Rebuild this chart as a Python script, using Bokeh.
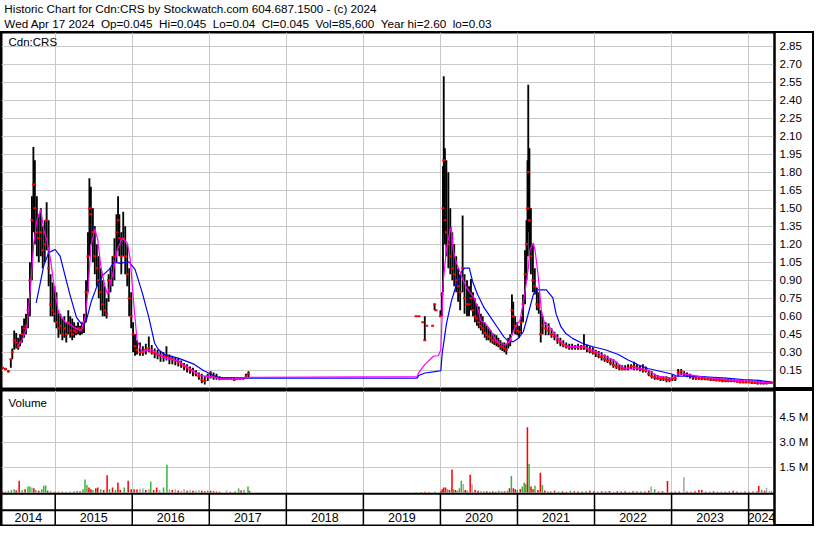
from bokeh.plotting import figure
from bokeh.layouts import column
from bokeh.models import Range1d, FixedTicker, PrintfTickFormatter, Label, Span, Grid, ColumnDataSource
from bokeh.core.properties import value
from bokeh.embed import file_html
from bokeh.resources import INLINE

# ---------------- data ----------------
title_line1 = "Historic Chart for Cdn:CRS by Stockwatch.com 604.687.1500 - (c) 2024"
title_line2 = "Wed Apr 17 2024  Op=0.045  Hi=0.045  Lo=0.04  Cl=0.045  Vol=85,600  Year hi=2.60  lo=0.03"
symbol = "Cdn:CRS"
volume_title = "Volume"

price_ticks = [0.15, 0.30, 0.45, 0.60, 0.75, 0.90, 1.05, 1.20, 1.35, 1.50,
               1.65, 1.80, 1.95, 2.10, 2.25, 2.40, 2.55, 2.70, 2.85]
volume_ticks = [1.5, 3.0, 4.5]
year_bounds = [2015, 2016, 2017, 2018, 2019, 2020, 2021, 2022, 2023, 2024]
year_labels = [2014, 2015, 2016, 2017, 2018, 2019, 2020, 2021, 2022, 2023, 2024]

# price bars (decimal year, high, low, close)
bar_date = [
    2014.316, 2014.354, 2014.392, 2014.424, 2014.443, 2014.468, 2014.494, 2014.519, 2014.545, 2014.570,
    2014.596, 2014.621, 2014.647, 2014.672, 2014.698, 2014.717, 2014.736, 2014.762, 2014.787, 2014.813,
    2014.838, 2014.864, 2014.889, 2014.915, 2014.940, 2014.966, 2014.991, 2015.017, 2015.042, 2015.068,
    2015.093, 2015.119, 2015.144, 2015.170, 2015.195, 2015.221, 2015.246, 2015.272, 2015.297, 2015.323,
    2015.348, 2015.374, 2015.400, 2015.425, 2015.444, 2015.463, 2015.489, 2015.514, 2015.540, 2015.565,
    2015.591, 2015.616, 2015.642, 2015.667, 2015.693, 2015.718, 2015.744, 2015.769, 2015.795, 2015.816,
    2015.833, 2015.858, 2015.883, 2015.909, 2015.935, 2015.960, 2015.986, 2016.011, 2016.036, 2016.062,
    2016.100, 2016.138, 2016.176, 2016.215, 2016.253, 2016.291, 2016.329, 2016.367, 2016.406, 2016.444,
    2016.482, 2016.520, 2016.559, 2016.597, 2016.635, 2016.673, 2016.712, 2016.750, 2016.788, 2016.827,
    2016.865, 2016.903, 2016.941, 2016.980, 2017.018, 2017.056, 2017.094, 2017.133, 2017.171, 2017.209,
    2017.247, 2017.286, 2017.324, 2017.362, 2017.400, 2017.439, 2017.477, 2017.509,
    2019.684, 2019.720, 2019.771, 2019.797, 2019.822, 2019.899, 2019.924, 2019.943, 2020.000, 2020.020,
    2020.033, 2020.043, 2020.058, 2020.077, 2020.103, 2020.128, 2020.154, 2020.179, 2020.205, 2020.230,
    2020.256, 2020.288, 2020.313, 2020.345, 2020.371, 2020.396, 2020.422, 2020.447, 2020.473, 2020.498,
    2020.524, 2020.549, 2020.575, 2020.600, 2020.626, 2020.651, 2020.677, 2020.702, 2020.728, 2020.753,
    2020.779, 2020.804, 2020.830, 2020.855, 2020.881, 2020.906, 2020.928, 2020.945, 2020.970, 2020.996,
    2021.021, 2021.047, 2021.072, 2021.098, 2021.117, 2021.130, 2021.140, 2021.155, 2021.174, 2021.200,
    2021.225, 2021.251, 2021.276, 2021.302, 2021.327, 2021.366, 2021.404, 2021.442, 2021.480, 2021.519,
    2021.557, 2021.595, 2021.633, 2021.672, 2021.710, 2021.748, 2021.786, 2021.825, 2021.863, 2021.901,
    2021.939, 2021.978, 2022.016, 2022.054, 2022.092, 2022.131, 2022.169, 2022.207, 2022.245, 2022.284,
    2022.322, 2022.360, 2022.398, 2022.436, 2022.475, 2022.513, 2022.551, 2022.589, 2022.628, 2022.666,
    2022.704, 2022.742, 2022.781, 2022.819, 2022.857, 2022.895, 2022.934, 2022.972, 2023.010, 2023.048,
    2023.086, 2023.125, 2023.163, 2023.201, 2023.239, 2023.278, 2023.316, 2023.354, 2023.392, 2023.430,
    2023.469, 2023.507, 2023.545, 2023.583, 2023.622, 2023.660, 2023.698, 2023.736, 2023.774, 2023.813,
    2023.851, 2023.889, 2023.927, 2023.965, 2024.004, 2024.042, 2024.080, 2024.118, 2024.157, 2024.195,
    2024.233, 2024.271, 2024.300,
]
bar_hi = [
    0.17, 0.17, 0.15, 0.24, 0.33, 0.48, 0.46, 0.42, 0.45, 0.52,
    0.58, 0.62, 0.75, 1.05, 1.60, 2.01, 1.90, 1.60, 1.45, 1.50,
    1.35, 1.40, 1.55, 1.40, 0.95, 0.88, 0.85, 0.80, 0.65, 0.62,
    0.58, 0.60, 0.55, 0.65, 0.60, 0.58, 0.55, 0.52, 0.55, 0.52,
    0.55, 0.62, 0.90, 1.30, 1.75, 1.68, 1.50, 1.35, 1.20, 1.10,
    1.00, 0.90, 0.85, 0.75, 0.95, 1.00, 1.10, 1.25, 1.45, 1.60,
    1.45, 1.30, 1.47, 1.35, 1.20, 1.00, 0.80, 0.55, 0.45, 0.40,
    0.38, 0.35, 0.37, 0.43, 0.36, 0.33, 0.32, 0.31, 0.30, 0.35,
    0.28, 0.27, 0.26, 0.25, 0.23, 0.21, 0.20, 0.18, 0.17, 0.15,
    0.13, 0.12, 0.10, 0.12, 0.14, 0.13, 0.12, 0.10, 0.09, 0.09,
    0.09, 0.09, 0.09, 0.09, 0.09, 0.09, 0.12, 0.14,
    0.60, 0.60, 0.55, 0.60, 0.52, 0.52, 0.70, 0.65, 0.65, 0.80,
    1.85, 2.60, 2.00, 1.90, 1.80, 1.50, 1.30, 1.20, 1.10, 1.00,
    0.95, 1.44, 0.95, 0.90, 0.85, 0.91, 0.80, 0.75, 0.70, 0.68,
    0.62, 0.60, 0.55, 0.52, 0.50, 0.48, 0.46, 0.45, 0.44, 0.42,
    0.40, 0.38, 0.38, 0.37, 0.42, 0.45, 0.78, 0.72, 0.60, 0.55,
    0.52, 0.60, 0.78, 1.15, 1.40, 1.90, 2.53, 2.00, 1.50, 1.20,
    1.00, 0.84, 0.80, 0.65, 0.60, 0.55, 0.54, 0.50, 0.47, 0.45,
    0.42, 0.40, 0.38, 0.37, 0.37, 0.36, 0.37, 0.36, 0.45, 0.36,
    0.35, 0.34, 0.32, 0.31, 0.30, 0.28, 0.27, 0.25, 0.24, 0.22,
    0.20, 0.19, 0.19, 0.20, 0.20, 0.22, 0.20, 0.19, 0.20, 0.18,
    0.15, 0.14, 0.12, 0.11, 0.10, 0.10, 0.10, 0.09, 0.11, 0.10,
    0.16, 0.16, 0.14, 0.13, 0.12, 0.11, 0.10, 0.10, 0.10, 0.095,
    0.09, 0.09, 0.09, 0.085, 0.085, 0.08, 0.08, 0.08, 0.075, 0.075,
    0.07, 0.07, 0.07, 0.065, 0.065, 0.065, 0.06, 0.06, 0.06, 0.055,
    0.055, 0.05, 0.045,
]
bar_lo = [
    0.16, 0.15, 0.13, 0.17, 0.24, 0.32, 0.33, 0.32, 0.35, 0.38,
    0.42, 0.45, 0.50, 0.60, 0.90, 1.30, 1.20, 1.10, 1.05, 1.10,
    1.00, 1.05, 1.15, 0.85, 0.60, 0.60, 0.55, 0.50, 0.42, 0.45,
    0.40, 0.42, 0.38, 0.45, 0.42, 0.40, 0.42, 0.44, 0.45, 0.44,
    0.45, 0.46, 0.55, 0.80, 1.10, 1.20, 1.05, 0.95, 0.85, 0.75,
    0.65, 0.60, 0.60, 0.58, 0.72, 0.80, 0.85, 0.90, 1.05, 1.15,
    1.10, 0.95, 1.10, 0.95, 0.85, 0.60, 0.50, 0.30, 0.27, 0.28,
    0.27, 0.27, 0.28, 0.30, 0.28, 0.25, 0.24, 0.22, 0.22, 0.23,
    0.20, 0.20, 0.19, 0.18, 0.17, 0.15, 0.13, 0.12, 0.10, 0.10,
    0.07, 0.04, 0.03, 0.06, 0.08, 0.07, 0.07, 0.065, 0.07, 0.07,
    0.07, 0.07, 0.06, 0.07, 0.07, 0.07, 0.08, 0.09,
    0.60, 0.60, 0.55, 0.40, 0.52, 0.52, 0.65, 0.65, 0.60, 0.60,
    0.80, 1.30, 1.20, 1.10, 1.00, 0.95, 0.90, 0.85, 0.80, 0.72,
    0.65, 0.80, 0.62, 0.60, 0.60, 0.65, 0.60, 0.55, 0.52, 0.50,
    0.48, 0.45, 0.42, 0.40, 0.40, 0.38, 0.37, 0.36, 0.35, 0.34,
    0.32, 0.31, 0.30, 0.28, 0.33, 0.35, 0.45, 0.48, 0.45, 0.44,
    0.42, 0.45, 0.55, 0.70, 0.90, 1.10, 1.30, 1.10, 0.95, 0.80,
    0.78, 0.65, 0.62, 0.38, 0.45, 0.44, 0.44, 0.42, 0.40, 0.37,
    0.35, 0.34, 0.33, 0.32, 0.32, 0.32, 0.32, 0.32, 0.32, 0.30,
    0.29, 0.28, 0.26, 0.25, 0.23, 0.22, 0.21, 0.19, 0.17, 0.16,
    0.15, 0.15, 0.15, 0.15, 0.16, 0.15, 0.15, 0.14, 0.13, 0.13,
    0.10, 0.08, 0.07, 0.07, 0.06, 0.06, 0.05, 0.05, 0.06, 0.06,
    0.10, 0.11, 0.10, 0.09, 0.08, 0.07, 0.07, 0.07, 0.065, 0.065,
    0.065, 0.06, 0.06, 0.055, 0.055, 0.05, 0.05, 0.05, 0.05, 0.05,
    0.045, 0.04, 0.04, 0.04, 0.04, 0.035, 0.035, 0.03, 0.03, 0.03,
    0.03, 0.035, 0.04,
]
bar_cl = [
    0.17, 0.16, 0.14, 0.24, 0.30, 0.40, 0.38, 0.34, 0.38, 0.45,
    0.50, 0.52, 0.65, 0.90, 1.40, 1.70, 1.50, 1.30, 1.25, 1.30,
    1.15, 1.20, 1.40, 1.00, 0.70, 0.65, 0.62, 0.55, 0.50, 0.52,
    0.45, 0.50, 0.45, 0.55, 0.48, 0.45, 0.48, 0.47, 0.50, 0.48,
    0.50, 0.55, 0.80, 1.10, 1.50, 1.45, 1.30, 1.10, 1.00, 0.90,
    0.80, 0.70, 0.65, 0.62, 0.90, 0.90, 0.95, 1.10, 1.30, 1.40,
    1.25, 1.10, 1.25, 1.10, 0.95, 0.75, 0.60, 0.45, 0.35, 0.32,
    0.30, 0.30, 0.32, 0.33, 0.30, 0.29, 0.28, 0.27, 0.26, 0.27,
    0.25, 0.24, 0.23, 0.22, 0.20, 0.18, 0.17, 0.15, 0.14, 0.12,
    0.10, 0.07, 0.06, 0.10, 0.12, 0.10, 0.09, 0.08, 0.08, 0.08,
    0.08, 0.08, 0.07, 0.08, 0.08, 0.08, 0.10, 0.12,
    0.60, 0.60, 0.55, 0.40, 0.52, 0.52, 0.70, 0.65, 0.60, 0.78,
    1.50, 1.90, 1.40, 1.30, 1.20, 1.10, 1.00, 0.95, 0.90, 0.85,
    0.80, 1.00, 0.75, 0.70, 0.70, 0.75, 0.65, 0.60, 0.58, 0.55,
    0.52, 0.50, 0.46, 0.44, 0.43, 0.42, 0.40, 0.39, 0.38, 0.37,
    0.35, 0.34, 0.33, 0.32, 0.38, 0.40, 0.65, 0.60, 0.52, 0.48,
    0.47, 0.55, 0.70, 0.95, 1.20, 1.50, 1.80, 1.40, 1.10, 0.90,
    0.85, 0.70, 0.68, 0.45, 0.52, 0.50, 0.48, 0.45, 0.43, 0.40,
    0.38, 0.36, 0.35, 0.34, 0.34, 0.34, 0.34, 0.33, 0.35, 0.33,
    0.31, 0.30, 0.29, 0.27, 0.26, 0.24, 0.23, 0.21, 0.19, 0.18,
    0.17, 0.16, 0.16, 0.17, 0.18, 0.18, 0.17, 0.16, 0.15, 0.15,
    0.12, 0.10, 0.09, 0.08, 0.08, 0.08, 0.07, 0.07, 0.08, 0.08,
    0.13, 0.14, 0.12, 0.11, 0.10, 0.09, 0.085, 0.08, 0.08, 0.08,
    0.075, 0.075, 0.07, 0.07, 0.065, 0.065, 0.06, 0.06, 0.06, 0.06,
    0.055, 0.05, 0.05, 0.05, 0.05, 0.045, 0.045, 0.04, 0.045, 0.04,
    0.045, 0.045, 0.045,
]

# short moving average (magenta)
ma_short_date = [
    2014.506, 2014.570, 2014.634, 2014.685, 2014.723, 2014.762, 2014.813, 2014.851, 2014.889, 2014.940,
    2014.978, 2015.042, 2015.131, 2015.195, 2015.259, 2015.335, 2015.387, 2015.425, 2015.463, 2015.514,
    2015.552, 2015.591, 2015.642, 2015.680, 2015.744, 2015.807, 2015.871, 2015.935, 2015.973, 2016.024,
    2016.062, 2016.126, 2016.253, 2016.419, 2016.597, 2016.724, 2016.890, 2017.056, 2017.145, 2017.336,
    2017.527, 2019.697, 2019.718, 2019.802, 2019.910, 2019.973, 2020.005, 2020.023, 2020.036, 2020.078,
    2020.120, 2020.142, 2020.164, 2020.206, 2020.270, 2020.333, 2020.375, 2020.439, 2020.482, 2020.524,
    2020.588, 2020.652, 2020.715, 2020.779, 2020.843, 2020.906, 2020.970, 2021.034, 2021.098, 2021.140,
    2021.161, 2021.205, 2021.227, 2021.268, 2021.311, 2021.353, 2021.417, 2021.480, 2021.544, 2021.608,
    2021.672, 2021.757, 2021.885, 2022.012, 2022.139, 2022.267, 2022.373, 2022.479, 2022.564, 2022.692,
    2022.819, 2022.989, 2023.117, 2023.244, 2023.414, 2023.626, 2023.838, 2024.050, 2024.306,
]
ma_short = [
    0.35, 0.40, 0.51, 0.886, 1.21, 1.40, 1.49, 1.32, 1.24, 1.07,
    0.886, 0.63, 0.55, 0.53, 0.50, 0.48, 0.59, 0.80, 1.18, 1.33,
    1.24, 1.02, 0.86, 0.78, 0.94, 1.16, 1.25, 1.21, 1.08, 0.67,
    0.40, 0.306, 0.32, 0.253, 0.226, 0.172, 0.105, 0.092, 0.078, 0.08,
    0.09, 0.097, 0.13, 0.20, 0.266, 0.27, 0.32, 0.617, 0.887, 1.156,
    1.30, 1.344, 1.156, 1.048, 0.94, 0.846, 0.805, 0.752, 0.671, 0.563,
    0.536, 0.482, 0.401, 0.374, 0.36, 0.401, 0.51, 0.57, 0.80, 1.00,
    1.156, 1.21, 1.156, 0.94, 0.644, 0.536, 0.51, 0.455, 0.40, 0.36,
    0.347, 0.35, 0.34, 0.305, 0.266, 0.225, 0.17, 0.158, 0.17, 0.15,
    0.10, 0.083, 0.12, 0.11, 0.091, 0.078, 0.064, 0.056, 0.043,
]

# long moving average (blue)
ma_long_date = [
    2014.753, 2014.809, 2014.851, 2014.915, 2015.000, 2015.064, 2015.127, 2015.191, 2015.276, 2015.361,
    2015.403, 2015.467, 2015.530, 2015.616, 2015.701, 2015.765, 2015.849, 2015.913, 2015.960, 2016.036,
    2016.126, 2016.215, 2016.291, 2016.342, 2016.419, 2016.597, 2016.801, 2016.929, 2017.056, 2017.145,
    2017.500, 2019.697, 2019.718, 2019.800, 2019.930, 2020.005, 2020.023, 2020.078, 2020.142, 2020.206,
    2020.270, 2020.312, 2020.375, 2020.418, 2020.482, 2020.566, 2020.652, 2020.737, 2020.821, 2020.885,
    2020.949, 2021.013, 2021.076, 2021.140, 2021.205, 2021.247, 2021.375, 2021.459, 2021.502, 2021.565,
    2021.629, 2021.714, 2021.841, 2021.969, 2022.139, 2022.309, 2022.436, 2022.521, 2022.564, 2022.692,
    2022.819, 2022.989, 2023.074, 2023.287, 2023.542, 2023.711, 2023.924, 2024.136, 2024.306,
]
ma_long = [
    0.71, 0.886, 1.02, 1.13, 1.156, 1.10, 0.94, 0.78, 0.59, 0.52,
    0.56, 0.72, 0.83, 0.94, 0.99, 1.05, 1.04, 1.05, 1.05, 0.99,
    0.805, 0.59, 0.374, 0.32, 0.28, 0.25, 0.20, 0.145, 0.105, 0.085,
    0.083, 0.083, 0.105, 0.126, 0.137, 0.145, 0.29, 0.536, 0.725, 0.86,
    0.967, 1.00, 1.00, 0.887, 0.78, 0.671, 0.59, 0.51, 0.43, 0.388,
    0.388, 0.415, 0.47, 0.62, 0.78, 0.82, 0.82, 0.752, 0.617, 0.51,
    0.455, 0.415, 0.374, 0.347, 0.32, 0.28, 0.235, 0.21, 0.195, 0.164,
    0.145, 0.12, 0.10, 0.10, 0.091, 0.083, 0.072, 0.064, 0.05,
]

# volume bars (decimal year, millions of shares, direction u=up d=down n=unchanged)
vol_date = [
    2014.316, 2014.354, 2014.392, 2014.430, 2014.468, 2014.494, 2014.532, 2014.570, 2014.609, 2014.647,
    2014.672, 2014.698, 2014.723, 2014.749, 2014.787, 2014.825, 2014.851, 2014.876, 2014.902, 2014.940,
    2014.991, 2015.042, 2015.093, 2015.144, 2015.195, 2015.246, 2015.285, 2015.323, 2015.361, 2015.387,
    2015.412, 2015.438, 2015.463, 2015.489, 2015.527, 2015.552, 2015.591, 2015.629, 2015.674, 2015.705,
    2015.744, 2015.782, 2015.814, 2015.845, 2015.896, 2015.947, 2015.986, 2016.024, 2016.062, 2016.100,
    2016.138, 2016.176, 2016.215, 2016.240, 2016.278, 2016.317, 2016.355, 2016.406, 2016.450, 2016.482,
    2016.520, 2016.559, 2016.597, 2016.635, 2016.673, 2016.712, 2016.750, 2016.788, 2016.827, 2016.865,
    2016.903, 2016.941, 2016.980, 2017.018, 2017.056, 2017.094, 2017.133, 2017.222, 2017.273, 2017.336,
    2017.381, 2017.413, 2017.451, 2017.502, 2017.522,
    2019.684, 2019.748, 2019.799, 2019.850, 2019.927, 2020.003, 2020.023, 2020.042, 2020.067, 2020.093,
    2020.118, 2020.150, 2020.170, 2020.195, 2020.220, 2020.246, 2020.271, 2020.297, 2020.322, 2020.348,
    2020.386, 2020.411, 2020.450, 2020.488, 2020.526, 2020.564, 2020.602, 2020.641, 2020.679, 2020.717,
    2020.756, 2020.794, 2020.832, 2020.870, 2020.896, 2020.921, 2020.947, 2020.972, 2020.998, 2021.036,
    2021.062, 2021.087, 2021.106, 2021.129, 2021.151, 2021.176, 2021.202, 2021.227, 2021.265, 2021.297,
    2021.323, 2021.355, 2021.393, 2021.431, 2021.482, 2021.533, 2021.584, 2021.635, 2021.686, 2021.737,
    2021.788, 2021.839, 2021.890, 2021.939, 2021.990, 2022.041, 2022.092, 2022.143, 2022.194, 2022.245,
    2022.296, 2022.347, 2022.398, 2022.449, 2022.500, 2022.551, 2022.602, 2022.653, 2022.704, 2022.736,
    2022.781, 2022.832, 2022.883, 2022.947, 2022.998, 2023.048, 2023.099, 2023.160, 2023.201, 2023.252,
    2023.303, 2023.354, 2023.392, 2023.443, 2023.494, 2023.545, 2023.596, 2023.647, 2023.698, 2023.749,
    2023.800, 2023.851, 2023.902, 2023.953, 2024.004, 2024.055, 2024.106, 2024.131, 2024.170, 2024.208,
    2024.233, 2024.271, 2024.297,
]
vol_m = [
    0.08, 0.05, 0.10, 0.15, 0.20, 0.12, 0.70, 0.15, 0.20, 0.35,
    0.35, 0.30, 0.25, 0.15, 0.10, 0.20, 0.40, 0.42, 0.10, 0.08,
    0.05, 0.06, 0.05, 0.04, 0.08, 0.06, 0.10, 0.07, 0.20, 0.78,
    0.45, 0.30, 0.20, 0.15, 0.25, 0.30, 0.20, 0.15, 1.02, 0.20,
    0.30, 0.15, 0.59, 0.15, 0.30, 0.70, 0.20, 0.20, 0.18, 0.22,
    0.25, 0.15, 0.20, 0.65, 0.15, 0.30, 0.15, 0.30, 1.65, 0.20,
    0.15, 0.20, 0.12, 0.10, 0.20, 0.10, 0.15, 0.10, 0.12, 0.15,
    0.10, 0.08, 0.12, 0.10, 0.08, 0.06, 0.05, 0.12, 0.05, 0.06,
    0.24, 0.12, 0.15, 0.35, 0.10,
    0.03, 0.03, 0.04, 0.03, 0.05, 0.08, 0.20, 0.30, 0.30, 0.20,
    0.15, 1.37, 0.20, 0.15, 0.10, 0.25, 0.70, 0.50, 0.15, 0.10,
    1.06, 0.47, 0.15, 0.10, 0.08, 0.06, 0.08, 0.06, 0.07, 0.05,
    0.10, 0.06, 0.08, 0.10, 0.25, 0.98, 0.25, 0.20, 0.15, 0.20,
    0.35, 0.60, 0.50, 3.88, 1.69, 0.35, 0.20, 0.40, 0.15, 1.18,
    0.45, 0.12, 0.08, 0.06, 0.10, 0.06, 0.08, 0.05, 0.10, 0.07,
    0.06, 0.08, 0.06, 0.10, 0.07, 0.06, 0.08, 0.06, 0.09, 0.05,
    0.07, 0.06, 0.08, 0.05, 0.07, 0.06, 0.08, 0.06, 0.10, 0.35,
    0.20, 0.06, 0.08, 0.69, 0.05, 0.08, 0.06, 0.90, 0.06, 0.05,
    0.07, 0.15, 0.15, 0.06, 0.05, 0.07, 0.05, 0.06, 0.05, 0.06,
    0.10, 0.06, 0.05, 0.06, 0.05, 0.06, 0.08, 0.38, 0.15, 0.10,
    0.28, 0.10, 0.06,
]
vol_dir = [
    "d", "d", "u", "u", "u", "d", "d", "u", "d", "u",
    "u", "n", "d", "u", "d", "u", "u", "u", "d", "u",
    "d", "u", "d", "u", "n", "d", "u", "d", "u", "u",
    "u", "d", "d", "u", "d", "d", "u", "d", "d", "u",
    "d", "u", "d", "d", "u", "d", "d", "d", "d", "n",
    "n", "d", "n", "u", "d", "d", "n", "u", "u", "n",
    "d", "n", "d", "n", "n", "d", "n", "d", "n", "n",
    "d", "d", "u", "d", "d", "d", "d", "n", "d", "d",
    "u", "d", "u", "u", "d",
    "u", "d", "d", "d", "u", "d", "d", "d", "d", "u",
    "d", "d", "u", "d", "u", "u", "u", "n", "d", "u",
    "d", "n", "d", "d", "u", "d", "d", "u", "d", "d",
    "u", "d", "d", "u", "d", "u", "d", "d", "u", "d",
    "u", "u", "u", "d", "u", "d", "d", "u", "d", "d",
    "u", "d", "u", "d", "d", "u", "d", "d", "u", "d",
    "d", "u", "d", "d", "d", "u", "d", "d", "d", "u",
    "d", "d", "d", "u", "d", "d", "u", "d", "d", "n",
    "u", "d", "d", "d", "d", "u", "d", "n", "d", "d",
    "d", "d", "d", "u", "d", "d", "d", "u", "d", "d",
    "d", "d", "n", "d", "d", "d", "u", "d", "u", "d",
    "n", "n", "d",
]

# ---------------- layout / style constants ----------------
FONT = "Liberation Sans"
W = 814
AXIS_W = 40
LEFT_B = 1
FRAME_W = W - LEFT_B - AXIS_W
X_START, X_END = 2014.303, 2024.336
GRID = "#c8c8c8"
DIR_COLOR = {"u": "#3cb43c", "d": "#ff0000", "n": "#a8a8a8"}

H_HEAD = 31
H_PRICE = 358
H_VOL = 137

P_Y0, P_Y1 = -0.003, 2.965
V_Y0, V_Y1 = -1.962, 6.066
V_SEP1, V_SEP2, V_LAB = -0.068, -1.057, -1.509


def panel(height, y0, y1):
    p = figure(width=W, height=height, x_range=Range1d(X_START, X_END), y_range=Range1d(y0, y1),
               x_axis_location=None, y_axis_location="right", toolbar_location=None,
               output_backend="svg", min_border_left=LEFT_B, min_border_right=AXIS_W,
               min_border_top=1, min_border_bottom=1)
    p.outline_line_color = "black"
    p.outline_line_width = 2
    p.outline_line_alpha = 1
    p.border_fill_color = None
    p.background_fill_color = "white"
    p.styles = {"outline": "2px solid black", "outline-offset": "-2px"}
    p.xgrid.visible = False
    p.add_layout(Grid(dimension=0, ticker=FixedTicker(ticks=year_bounds),
                      grid_line_color=GRID, grid_line_width=1))
    p.ygrid.grid_line_color = GRID
    p.ygrid.grid_line_width = 1
    ax = p.yaxis[0]
    ax.axis_line_color = "black"
    ax.axis_line_width = 2
    ax.major_tick_line_color = None
    ax.minor_tick_line_color = None
    ax.major_tick_out = 0
    ax.major_tick_in = 0
    ax.major_label_standoff = 5
    ax.major_label_text_font = FONT
    ax.major_label_text_font_size = "11.5px"
    ax.major_label_text_color = "black"
    return p


# ---------------- header ----------------
head = figure(width=W, height=H_HEAD, x_range=Range1d(0, W), y_range=Range1d(0, H_HEAD),
              x_axis_location=None, y_axis_location=None, toolbar_location=None,
              output_backend="svg", min_border=0)
head.outline_line_color = None
head.grid.visible = False
head.add_layout(Label(x=3, y=H_HEAD - 8.3, text=title_line1, text_baseline="middle",
                      text_font=FONT, text_font_size="11.7px", text_color="black"))
head.add_layout(Label(x=3, y=H_HEAD - 23.3, text=title_line2.replace("  ", " \u00a0"),
                      text_baseline="middle", text_font=FONT, text_font_size="11.7px",
                      text_color="black"))

# ---------------- price panel ----------------
pp = panel(H_PRICE, P_Y0, P_Y1)
pp.yaxis.ticker = FixedTicker(ticks=price_ticks)
pp.yaxis.formatter = PrintfTickFormatter(format="%.2f")

bars = ColumnDataSource(dict(x=bar_date, hi=bar_hi, lo=bar_lo, cl=bar_cl))
pp.vbar(x="x", top="hi", bottom="lo", width=0.024, source=bars,
        fill_color="black", line_color=None)
pp.rect(x="x", y="cl", width=3, height=2, width_units="screen", height_units="screen",
        source=bars, fill_color="#ff0000", line_color=None)
pp.line(ma_long_date, ma_long, line_color="#0000ff", line_width=1.2)
pp.line(ma_short_date, ma_short, line_color="#ff00ff", line_width=1.2)

px_per_year = FRAME_W / (X_END - X_START)
pp.add_layout(Label(x=X_START + 7 / px_per_year,
                    y=P_Y1 - 9 * (P_Y1 - P_Y0) / (H_PRICE - 2), text=symbol,
                    text_baseline="middle", text_font=FONT, text_font_size="11.5px",
                    text_color="black"))

# ---------------- volume + date panel ----------------
vp = panel(H_VOL, V_Y0, V_Y1)
vp.yaxis.ticker = FixedTicker(ticks=volume_ticks)
vp.yaxis.formatter = PrintfTickFormatter(format="%.1f M")

vols = ColumnDataSource(dict(x=vol_date, v=vol_m, c=[DIR_COLOR[d] for d in vol_dir]))
vp.vbar(x="x", top="v", bottom=0, width=0.02, source=vols, fill_color="c", line_color=None)

vp.add_layout(Span(location=V_SEP1, dimension="width", line_color="black", line_width=2))
vp.add_layout(Span(location=V_SEP2, dimension="width", line_color="black", line_width=2))
vp.segment(x0=year_bounds, y0=[V_SEP1] * len(year_bounds), x1=year_bounds,
           y1=[V_Y0] * len(year_bounds), line_color="black", line_width=1.5)

lab_x = [(max(y, X_START) + min(y + 1, X_END)) / 2 for y in year_labels]
vp.text(x=lab_x, y=[V_LAB] * len(year_labels), text=[str(y) for y in year_labels],
        text_align="center", text_baseline="middle", text_font=value(FONT),
        text_font_size="12.5px", text_color="black")

vpx = (H_VOL - 2) / (V_Y1 - V_Y0)
vp.add_layout(Label(x=X_START + 7 / px_per_year, y=V_Y1 - 12.5 / vpx, text=volume_title,
                    text_baseline="middle", text_font=FONT, text_font_size="11.5px",
                    text_color="black"))

layout = column(head, pp, vp, spacing=0)
open("out.html", "w").write(file_html(layout, INLINE))
